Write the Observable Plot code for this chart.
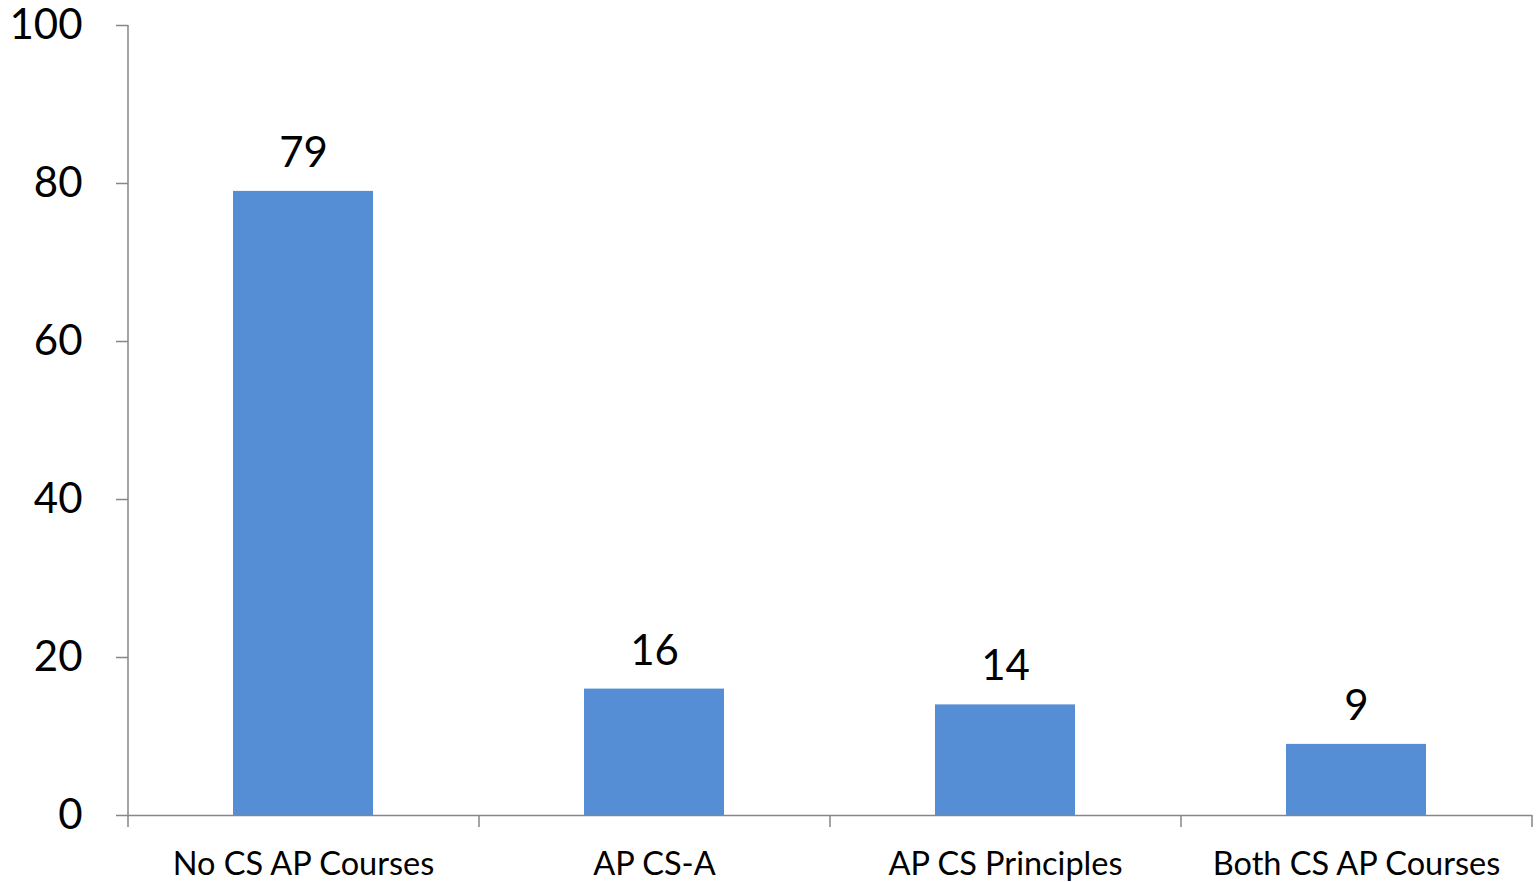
<!DOCTYPE html>
<html>
<head>
<meta charset="utf-8">
<script src="https://cdn.jsdelivr.net/npm/d3@7"></script>
<script src="https://cdn.jsdelivr.net/npm/@observablehq/plot@0.6"></script>
<style>
  html, body { margin: 0; padding: 0; background: #fff; }
  #chart svg { display: block; }
</style>
</head>
<body>
<div id="chart"></div>
<script>
const categories = ["No CS AP Courses", "AP CS-A", "AP CS Principles", "Both CS AP Courses"];
const values = [79, 16, 14, 9];
const yTicks = [0, 20, 40, 60, 80, 100];

const data = categories.map((c, i) => ({category: c, value: values[i]}));

const W = 1537, H = 882;
const mL = 128, mR = 5, mT = 25, mB = 67;
const padInner = 0.6, padOuter = 0.3;
const step = (W - mL - mR) / (categories.length - padInner + 2 * padOuter);
const innerH = H - mT - mB;
const gray = "#868686";
const font = "Lato, 'Open Sans', sans-serif";

// boundary ticks between categories (Excel-style)
const boundaries = categories.map(c => ({category: c, side: -1}))
  .concat([{category: categories[categories.length - 1], side: 1}]);

const chart = Plot.plot({
  width: W,
  height: H,
  marginLeft: mL,
  marginRight: mR,
  marginTop: mT,
  marginBottom: mB,
  style: {fontFamily: font, background: "#fff", overflow: "visible"},
  x: {domain: categories, paddingInner: padInner, paddingOuter: padOuter},
  y: {domain: [0, 100]},
  marks: [
    Plot.barY(data, {x: "category", y: "value", fill: "#558ED5"}),
    Plot.text(data, {
      x: "category", y: "value", text: d => String(d.value),
      lineAnchor: "middle", dy: -38, fontSize: 42, fill: "#000"
    }),
    // y axis line at left edge
    Plot.ruleX([categories[0]], {x: d => d, dx: -step / 2, stroke: gray, strokeWidth: 1.5}),
    // x axis line
    Plot.ruleY([0], {stroke: gray, strokeWidth: 1.5}),
    // x boundary ticks
    Plot.ruleX(boundaries, {
      x: "category", stroke: gray, strokeWidth: 1.5,
      insetTop: innerH, insetBottom: -12,
      render(index, scales, values, dimensions, context, next) {
        const g = next(index, scales, values, dimensions, context);
        d3.select(g).selectAll("line").each(function(_, j) {
          const d = boundaries[index[j]];
          const x = +this.getAttribute("x1") + d.side * step / 2;
          this.setAttribute("x1", x);
          this.setAttribute("x2", x);
        });
        return g;
      }
    }),
    Plot.axisY({
      ticks: yTicks, tickSize: 12, tickPadding: 34, stroke: gray, strokeWidth: 1.5,
      fontSize: 42, fill: "#000", label: null, tickFormat: d => String(d)
    }),
    Plot.axisX({
      tickSize: 0, tickPadding: 36, fontSize: 32.5, fill: "#000", label: null
    })
  ]
});

document.getElementById("chart").appendChild(chart);
</script>
</body>
</html>
